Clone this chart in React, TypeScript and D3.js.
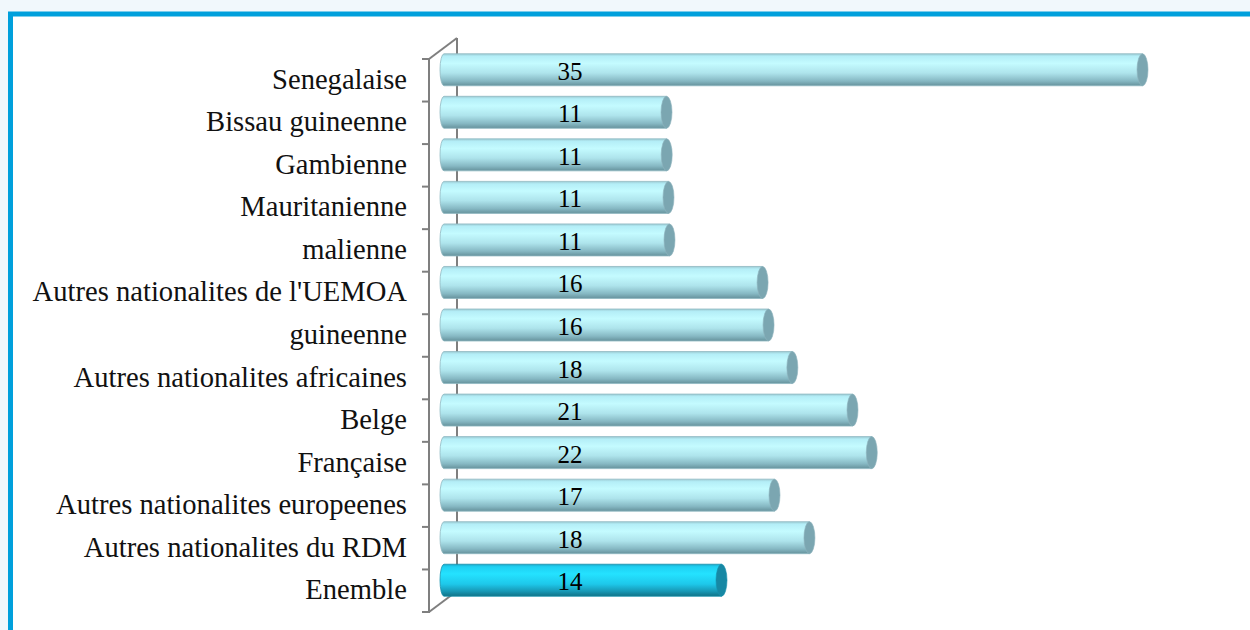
import React from 'react';
import * as d3 from 'd3';

// categories top -> bottom
const categories = [
  'Senegalaise',
  'Bissau guineenne',
  'Gambienne',
  'Mauritanienne',
  'malienne',
  "Autres nationalites de l'UEMOA",
  'guineenne',
  'Autres nationalites africaines',
  'Belge',
  'Française',
  'Autres nationalites europeenes',
  'Autres nationalites du RDM',
  'Enemble',
];

// values (labels show them rounded)
const values = [35.19, 11.21, 11.22, 11.31, 11.36, 16.05, 16.35, 17.55, 20.58, 21.55, 16.65, 18.41, 13.98];

const highlight = 'Enemble';

const W = 1250;
const H = 630;
const FONT = '"Liberation Serif", "Times New Roman", serif';

export default function App() {
  const front = { x: 429, top: 59, bottom: 612 };
  const depth = { dx: 28, dy: -21 };
  const mid = { dx: 15, dy: -10.5 };

  const y = d3.scaleBand<string>()
    .domain(categories)
    .range([front.top, front.bottom])
    .paddingInner(0)
    .paddingOuter(0);

  const barH = 32;
  const x = d3.scaleLinear().domain([0, 40]).range([front.x + mid.dx, front.x + mid.dx + 40 * 19.85]);
  const capRx = 5.5;
  const leftRx = 4;

  const ticks = d3.range(categories.length + 1).map(i => front.top + i * y.step());

  return (
    <div style={{ position: 'absolute', left: 0, top: 0, width: W, height: H }}>
      <svg width={W} height={H} style={{ display: 'block' }}>
        <defs>
          <linearGradient id="barGrad" x1="0" y1="0" x2="0" y2="1">
            <stop offset="0" stopColor="#9ccbd4" />
            <stop offset="0.08" stopColor="#b4eef7" />
            <stop offset="0.3" stopColor="#c4fbff" />
            <stop offset="0.6" stopColor="#aee4ec" />
            <stop offset="0.85" stopColor="#86b8c3" />
            <stop offset="1" stopColor="#66929c" />
          </linearGradient>
          <linearGradient id="hiGrad" x1="0" y1="0" x2="0" y2="1">
            <stop offset="0" stopColor="#1aa8c8" />
            <stop offset="0.08" stopColor="#1fd0f2" />
            <stop offset="0.3" stopColor="#24e2ff" />
            <stop offset="0.62" stopColor="#1ec8ea" />
            <stop offset="0.85" stopColor="#1797b4" />
            <stop offset="1" stopColor="#117286" />
          </linearGradient>
        </defs>

        {/* page + frame */}
        <rect x={0} y={0} width={W} height={H} fill="#f1f8fc" />
        <rect x={10.5} y={14} width={W + 20} height={H + 20} fill="#ffffff" stroke="#00a0dc" strokeWidth={5} />

        {/* 3D axis */}
        <g stroke="#7f7f7f" strokeWidth={2} fill="none">
          <line x1={front.x + depth.dx} y1={front.top + depth.dy} x2={front.x + depth.dx} y2={front.bottom + depth.dy} />
          <line x1={front.x} y1={front.top} x2={front.x + depth.dx} y2={front.top + depth.dy} />
          <line x1={front.x} y1={front.bottom} x2={front.x + depth.dx} y2={front.bottom + depth.dy} />
          <line x1={front.x} y1={front.top - 1} x2={front.x} y2={front.bottom + 1} />
          {ticks.map((t, i) => (
            <line key={i} x1={front.x - 7} y1={t} x2={front.x} y2={t} />
          ))}
        </g>

        {/* bars */}
        {categories.map((c, i) => {
          const cy = (y(c) as number) + y.bandwidth() / 2 + mid.dy;
          const x0 = x(0);
          const x1 = x(values[i]);
          const top = cy - barH / 2;
          const hi = c === highlight;
          const d = `M${x1},${top} L${x0},${top} A${leftRx},${barH / 2} 0 0 0 ${x0},${top + barH} L${x1},${top + barH} Z`;
          return (
            <g key={c}>
              <path d={d} fill={hi ? 'url(#hiGrad)' : 'url(#barGrad)'} stroke={hi ? '#1590ad' : '#8fb9c2'} strokeWidth={0.8} />
              <ellipse cx={x1} cy={cy} rx={capRx} ry={barH / 2} fill={hi ? '#1788a4' : '#7ba6b1'} stroke={hi ? '#1590ad' : '#8fb4bd'} strokeWidth={0.6} />
              <text x={570} y={cy + 10} textAnchor="middle" fontFamily={FONT} fontSize={25} fill="#000">
                {Math.round(values[i])}
              </text>
            </g>
          );
        })}

        {/* category labels */}
        {categories.map(c => (
          <text key={c} x={407} y={(y(c) as number) + y.bandwidth() / 2 + 8.5} textAnchor="end" fontFamily={FONT} fontSize={28.6} fill="#111">
            {c}
          </text>
        ))}
      </svg>
    </div>
  );
}
